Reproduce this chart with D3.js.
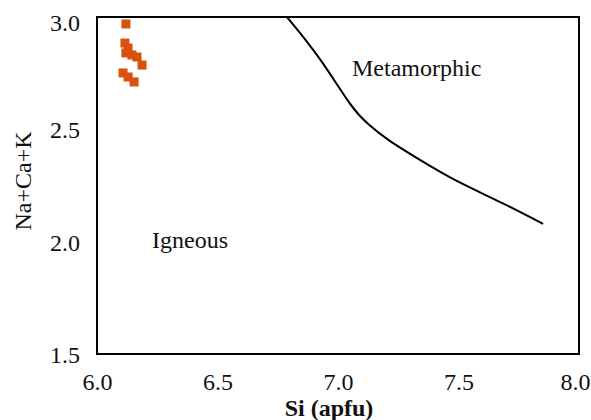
<!DOCTYPE html>
<html>
<head>
<meta charset="utf-8">
<script src="https://cdn.jsdelivr.net/npm/d3@7"></script>
<style>
  body { margin: 0; background: #fff; }
  text { font-family: "Liberation Serif", "Times New Roman", serif; fill: #111; }
</style>
</head>
<body>
<script>
// sample points (Si apfu, Na+Ca+K)
var si_vals = [6.12, 6.116, 6.129, 6.12, 6.145, 6.166, 6.187, 6.108, 6.129, 6.154];
var nck_vals = [2.969, 2.884, 2.862, 2.840, 2.831, 2.822, 2.786, 2.751, 2.733, 2.711];

// igneous / metamorphic boundary
var bound_si = [6.788, 6.925, 7.062, 7.12, 7.203, 7.34, 7.477, 7.685, 7.851];
var bound_nck = [3.0, 2.822, 2.586, 2.528, 2.453, 2.364, 2.275, 2.172, 2.079];

var x_ticks = [6.0, 6.5, 7.0, 7.5, 8.0];
var y_ticks = [1.5, 2.0, 2.5, 3.0];

var w = 591, h = 420;
var pl = 97, pr = 579, pt = 17, pb = 354;

var svg = d3.select("body").append("svg")
            .attr("width", w)
            .attr("height", h);

var x = d3.scaleLinear().domain([6, 8]).range([pl, pr]);
var y = d3.scaleLinear().domain([1.5, 3]).range([pb, pt]);

// boundary line (smoothed through the read points)
var line = d3.line()
             .x(function(d){ return x(d[0]); })
             .y(function(d){ return y(d[1]); })
             .curve(d3.curveBasis);
svg.append("path")
   .datum(d3.zip(bound_si, bound_nck))
   .attr("d", line)
   .attr("fill", "none")
   .attr("stroke", "#000")
   .attr("stroke-width", 2);

// points
var sq = 9;
svg.selectAll(".pt")
   .data(d3.zip(si_vals, nck_vals))
   .enter().append("rect")
   .attr("class", "pt")
   .attr("x", function(d){ return x(d[0]) - sq/2; })
   .attr("y", function(d){ return y(d[1]) - sq/2; })
   .attr("width", sq).attr("height", sq)
   .attr("fill", "#d8520c");

// frame
svg.append("rect")
   .attr("x", pl).attr("y", pt)
   .attr("width", pr - pl).attr("height", pb - pt)
   .attr("fill", "none").attr("stroke", "#000").attr("stroke-width", 2);

// x tick labels
var xAxis = d3.axisBottom(x).tickValues(x_ticks).tickSize(0).tickPadding(0)
              .tickFormat(d3.format(".1f"));
var gx = svg.append("g").attr("transform", "translate(0," + (pb + 36) + ")").call(xAxis);
gx.select(".domain").remove();
gx.selectAll("text")
  .attr("dy", 0)
  .attr("font-size", 24)
  .attr("font-family", "Liberation Serif")
  .attr("fill", "#111");
// last label is pushed in from the edge
gx.selectAll(".tick").filter(function(d){ return d === 8; })
  .select("text").attr("text-anchor", "end").attr("x", 11);

// y tick labels
var yAxis = d3.axisLeft(y).tickValues(y_ticks).tickSize(0).tickPadding(17)
              .tickFormat(d3.format(".1f"));
var gy = svg.append("g").attr("transform", "translate(" + pl + ",0)").call(yAxis);
gy.select(".domain").remove();
gy.selectAll("text")
  .attr("dy", "0.35em")
  .attr("font-size", 24)
  .attr("font-family", "Liberation Serif")
  .attr("fill", "#111");
gy.selectAll(".tick").filter(function(d){ return d === 3; })
  .select("text").attr("dy", "0.55em");

// axis titles
svg.append("text")
   .attr("x", 329).attr("y", 416)
   .attr("text-anchor", "middle")
   .attr("font-size", 24)
   .attr("font-weight", "bold")
   .text("Si (apfu)");

svg.append("text")
   .attr("transform", "translate(31,181) rotate(-90)")
   .attr("text-anchor", "middle")
   .attr("font-size", 24)
   .text("Na+Ca+K");

// field labels
svg.append("text")
   .attr("x", 152).attr("y", 248)
   .attr("font-size", 24)
   .text("Igneous");

svg.append("text")
   .attr("x", 352).attr("y", 76)
   .attr("font-size", 24)
   .text("Metamorphic");
</script>
</body>
</html>
